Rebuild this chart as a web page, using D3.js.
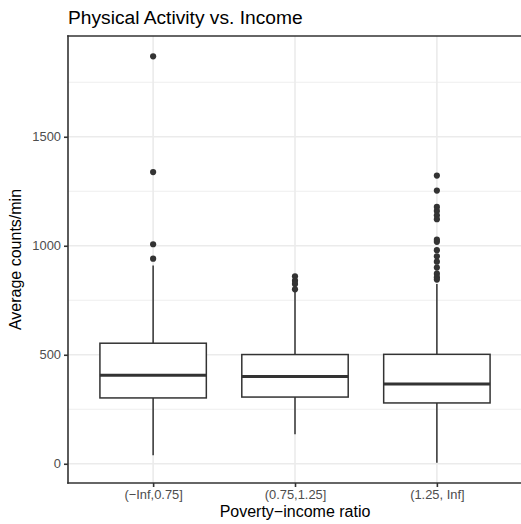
<!DOCTYPE html>
<html><head><meta charset="utf-8">
<script src="https://cdn.jsdelivr.net/npm/d3@7"></script>
<style>body{margin:0;background:#fff;overflow:hidden;} svg{display:block;}</style>
</head><body>
<script>
const categories = ["(\u2212Inf,0.75]", "(0.75,1.25]", "(1.25, Inf]"];
const lowerWhisker = [39, 135, 5];
const q1 = [302, 306, 279];
const median = [406, 400, 366];
const q3 = [553, 501, 502];
const upperWhisker = [910, 798, 825];
const outliers = [
  [1869, 1338, 1007, 941],
  [860, 840, 825, 800],
  [1322, 1253, 1178, 1160, 1140, 1122, 1028, 1018, 980, 952, 927, 900, 872, 856, 845]
];
const yTicks = [0, 500, 1000, 1500];
const yMinor = [250, 750, 1250, 1750];

const W = 521, H = 524;
const m = {left: 68, top: 36, right: 522, bottom: 483};
const svg = d3.select("body").append("svg").attr("width", W).attr("height", H);
const font = "Liberation Sans, Arial, sans-serif";

const allVals = [].concat(lowerWhisker, upperWhisker, ...outliers);
const lo = d3.min(allVals), hi = d3.max(allVals);
const pad = (hi - lo) * 0.05;
const y = d3.scaleLinear().domain([lo - pad, hi + pad]).range([m.bottom, m.top]);
const x = d3.scalePoint().domain(categories).range([m.left, m.right]).padding(0.6);
const step = x.step();
const bw = step * 0.75;

svg.append("clipPath").attr("id", "pc").append("rect")
  .attr("x", m.left).attr("y", m.top).attr("width", m.right - m.left).attr("height", m.bottom - m.top);
const g = svg.append("g").attr("clip-path", "url(#pc)");

// grid
g.selectAll(".ymin").data(yMinor).enter().append("line")
  .attr("x1", m.left).attr("x2", m.right).attr("y1", d => y(d)).attr("y2", d => y(d))
  .attr("stroke", "#EBEBEB").attr("stroke-width", 0.8);
g.selectAll(".ymaj").data(yTicks).enter().append("line")
  .attr("x1", m.left).attr("x2", m.right).attr("y1", d => y(d)).attr("y2", d => y(d))
  .attr("stroke", "#EBEBEB").attr("stroke-width", 1.6);
g.selectAll(".xmaj").data(categories).enter().append("line")
  .attr("y1", m.top).attr("y2", m.bottom).attr("x1", d => x(d)).attr("x2", d => x(d))
  .attr("stroke", "#EBEBEB").attr("stroke-width", 1.6);

const col = "#333333";
categories.forEach((c, i) => {
  const cx = x(c);
  g.append("line").attr("x1", cx).attr("x2", cx).attr("y1", y(q3[i])).attr("y2", y(upperWhisker[i]))
    .attr("stroke", col).attr("stroke-width", 1.5);
  g.append("line").attr("x1", cx).attr("x2", cx).attr("y1", y(q1[i])).attr("y2", y(lowerWhisker[i]))
    .attr("stroke", col).attr("stroke-width", 1.5);
  g.append("rect").attr("x", cx - bw / 2).attr("width", bw)
    .attr("y", y(q3[i])).attr("height", y(q1[i]) - y(q3[i]))
    .attr("fill", "#fff").attr("stroke", col).attr("stroke-width", 1.5);
  g.append("line").attr("x1", cx - bw / 2).attr("x2", cx + bw / 2).attr("y1", y(median[i])).attr("y2", y(median[i]))
    .attr("stroke", col).attr("stroke-width", 3);
  g.selectAll(".o" + i).data(outliers[i]).enter().append("circle")
    .attr("cx", cx).attr("cy", d => y(d)).attr("r", 3.1).attr("fill", col);
});

// panel border: top, left, bottom (right edge lies outside the window)
const border = [[m.left, m.top, W + 5, m.top], [m.left, m.top, m.left, m.bottom], [m.left, m.bottom, W + 5, m.bottom]];
svg.selectAll(".bd").data(border).enter().append("line")
  .attr("x1", d => d[0]).attr("y1", d => d[1]).attr("x2", d => d[2]).attr("y2", d => d[3])
  .attr("stroke", col).attr("stroke-width", 1.6).attr("stroke-linecap", "square");

// y axis
const ya = svg.append("g").attr("transform", `translate(${m.left},0)`)
  .call(d3.axisLeft(y).tickValues(yTicks).tickSize(4).tickPadding(3).tickFormat(d3.format("d")));
ya.select(".domain").remove();
ya.selectAll("line").attr("stroke", col).attr("stroke-width", 1.6);
ya.selectAll("text").attr("fill", "#4D4D4D").attr("font-family", font).attr("font-size", 12.9);

// x axis
const xa = svg.append("g").attr("transform", `translate(0,${m.bottom})`)
  .call(d3.axisBottom(x).tickSize(4).tickPadding(3));
xa.select(".domain").remove();
xa.selectAll("line").attr("stroke", col).attr("stroke-width", 1.6);
xa.selectAll("text").attr("fill", "#4D4D4D").attr("font-family", font).attr("font-size", 12.9);

svg.append("text").attr("x", (m.left + m.right) / 2).attr("y", 517).attr("text-anchor", "middle")
  .attr("font-family", font).attr("font-size", 16).attr("fill", "#000").text("Poverty\u2212income ratio");
svg.append("text").attr("transform", `translate(21,${(m.top + m.bottom) / 2}) rotate(-90)`).attr("text-anchor", "middle")
  .attr("font-family", font).attr("font-size", 16).attr("fill", "#000").text("Average counts/min");
svg.append("text").attr("x", 68).attr("y", 24)
  .attr("font-family", font).attr("font-size", 19.2).attr("fill", "#000").text("Physical Activity vs. Income");
</script>
</body></html>
